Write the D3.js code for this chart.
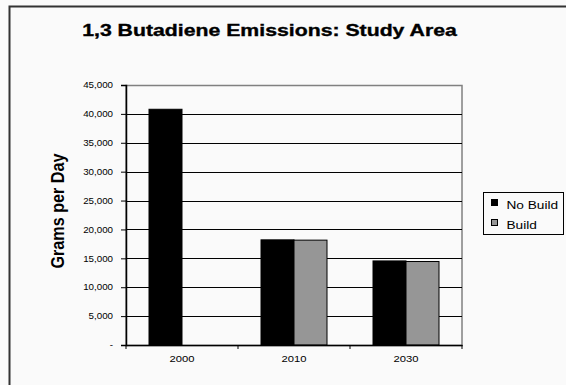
<!DOCTYPE html>
<html>
<head>
<meta charset="utf-8">
<script src="https://cdn.jsdelivr.net/npm/d3@7"></script>
<style>
  html, body { margin: 0; padding: 0; background: #fafafa; }
  svg { display: block; font-family: Arial, "Liberation Sans", sans-serif; }
</style>
</head>
<body>
<svg id="chart" width="566" height="385"></svg>
<script>
// Emissions by analysis year (grams per day)
const years = ["2000", "2010", "2030"];
const seriesNames = ["No Build", "Build"];
const noBuild = [40800, 18200, 14550];
const build = [null, 18150, 14450];
const seriesColors = ["#000000", "#969696"];
const yTicks = [0, 5000, 10000, 15000, 20000, 25000, 30000, 35000, 40000, 45000];

const FONT = "Arial, 'Liberation Sans', sans-serif";
const svg = d3.select("#chart");
const W = 566, H = 385;
const plot = { left: 126, right: 462, top: 85, bottom: 345 };

// Stretch text horizontally by factor k about its own x anchor (wide lettering)
function widen(sel, k) {
  sel.each(function () {
    const x0 = +(this.getAttribute("x") || 0);
    d3.select(this).attr("transform", `translate(${x0},0) scale(${k},1) translate(${-x0},0)`);
  });
}

// Outer frame
svg.append("rect")
  .attr("x", 9.5).attr("y", 6.5)
  .attr("width", W + 10).attr("height", H + 10)
  .attr("fill", "#fafafa").attr("stroke", "#333").attr("stroke-width", 2);

const title = svg.append("text")
  .attr("x", 269.5).attr("y", 36)
  .attr("text-anchor", "middle")
  .attr("font-size", 16).attr("font-weight", "bold")
  .attr("stroke", "#000").attr("stroke-width", 0.35)
  .text("1,3 Butadiene Emissions: Study Area");
widen(title, 375 / title.node().getComputedTextLength());

const x = d3.scaleBand().domain(years).range([plot.left, plot.right]).paddingInner(0).paddingOuter(0);
const x1 = d3.scaleBand().domain(seriesNames).range([23, x.bandwidth() - 23]);
const y = d3.scaleLinear().domain([0, 45000]).range([plot.bottom, plot.top]);

// Plot area border
svg.append("rect")
  .attr("x", plot.left).attr("y", plot.top + 0.5)
  .attr("width", plot.right - plot.left).attr("height", plot.bottom - plot.top)
  .attr("fill", "none").attr("stroke", "#808080").attr("stroke-width", 1.5);

// Gridlines
svg.append("g")
  .selectAll("line")
  .data(yTicks.filter(d => d > 0 && d < 45000))
  .join("line")
  .attr("x1", plot.left).attr("x2", plot.right)
  .attr("y1", d => Math.round(y(d)) + 0.5).attr("y2", d => Math.round(y(d)) + 0.5)
  .attr("stroke", "#000").attr("stroke-width", 1);

// Bars
const rows = years.map((yr, i) => ({ year: yr, values: [noBuild[i], build[i]] }));
const groups = svg.append("g").selectAll("g")
  .data(rows).join("g")
  .attr("transform", d => `translate(${x(d.year)},0)`);
groups.selectAll("rect")
  .data(d => d.values.map((v, j) => ({ name: seriesNames[j], value: v, color: seriesColors[j] })).filter(d => d.value != null))
  .join("rect")
  .attr("x", d => x1(d.name))
  .attr("width", x1.bandwidth())
  .attr("y", d => y(d.value))
  .attr("height", d => y(0) - y(d.value))
  .attr("fill", d => d.color)
  .attr("stroke", "#000").attr("stroke-width", 1);

// Y axis
const yAxis = d3.axisLeft(y)
  .tickValues(yTicks)
  .tickSize(5)
  .tickPadding(8)
  .tickFormat(d => d === 0 ? "-" : d3.format(",")(d));
const gy = svg.append("g")
  .attr("transform", `translate(${plot.left},0)`)
  .call(yAxis);
gy.select(".domain").attr("stroke", "#000").attr("stroke-width", 1.5);
gy.selectAll(".tick line").attr("stroke", "#000");
gy.selectAll(".tick text").attr("font-size", 8.5).attr("font-family", FONT).attr("fill", "#000");
widen(gy.selectAll(".tick text"), 1.15);

// X axis
const gx = svg.append("g")
  .attr("transform", `translate(0,${plot.bottom})`)
  .call(d3.axisBottom(x).tickSize(0).tickPadding(11));
gx.select(".domain").attr("stroke", "#000").attr("stroke-width", 1.5);
gx.selectAll(".tick text").attr("font-size", 9).attr("font-family", FONT).attr("fill", "#000");
widen(gx.selectAll(".tick text"), 1.25);
// Category divider ticks
gx.append("g").selectAll("line")
  .data(years.map(d => x(d)).concat([plot.right]))
  .join("line")
  .attr("x1", d => d).attr("x2", d => d)
  .attr("y1", 0).attr("y2", 4)
  .attr("stroke", "#000");

// Y axis title
svg.append("text")
  .attr("transform", `translate(63.5,211) rotate(-90)`)
  .attr("text-anchor", "middle")
  .attr("font-size", 18).attr("font-weight", "bold")
  .attr("textLength", 115).attr("lengthAdjust", "spacingAndGlyphs")
  .text("Grams per Day");

// Legend
const legend = svg.append("g").attr("transform", "translate(483.5,192.5)");
legend.append("rect")
  .attr("width", 80).attr("height", 42)
  .attr("fill", "#fafafa").attr("stroke", "#000");
seriesNames.forEach((name, i) => {
  legend.append("rect")
    .attr("x", 8).attr("y", 7 + i * 20)
    .attr("width", 6).attr("height", 6)
    .attr("fill", seriesColors[i]).attr("stroke", "#000").attr("stroke-width", 1);
  const t = legend.append("text")
    .attr("x", 23).attr("y", 16.8 + i * 19.5)
    .attr("font-size", 11.5)
    .text(name);
  widen(t, 1.19);
});
</script>
</body>
</html>
